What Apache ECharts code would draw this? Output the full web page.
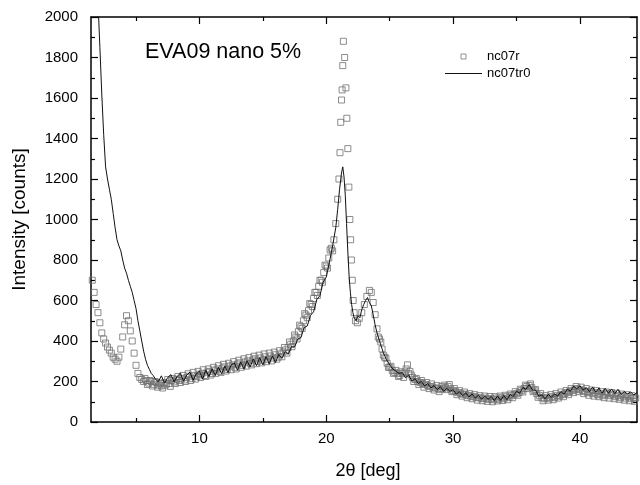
<!DOCTYPE html>
<html>
<head>
<meta charset="utf-8">
<script src="https://cdn.jsdelivr.net/npm/echarts@6.0.0/dist/echarts.min.js"></script>
<style>
html,body{margin:0;padding:0;background:#fff;}
#chart{width:640px;height:485px;}
</style>
</head>
<body>
<div id="chart"></div>
<script>
// ---- data ----
const xMajorTicks = [10, 20, 30, 40];
const xMinorTicks = [5, 15, 25, 35];
const seriesNames = ['nc07r', 'nc07tr0'];

// nc07r (hollow squares) – main readings [2θ, counts]
const sqPts = [[1.55,700],[1.7,640],[1.85,580],[2.0,540],[2.15,490],[2.3,440],[2.45,410],[2.6,390],[2.75,370],[2.9,355],[3.05,340],[3.2,320],[3.35,310],[3.5,300],[3.65,320],[3.8,360],[3.95,420],[4.1,480],[4.25,525],[4.4,500],[4.55,450],[4.7,400],[4.85,340],[5.0,280],[5.15,240],[5.3,220],[5.45,210],[5.6,200],[5.8,205],[6.0,192],[6.2,200],[6.4,186],[6.6,195],[6.8,182],[7.0,178],[7.2,195],[7.4,188],[7.6,190],[7.8,205],[8.0,198],[8.2,210],[8.4,205],[8.6,215],[8.8,208],[9.0,220],[9.2,226],[9.4,214],[9.6,230],[9.8,224],[10.0,236],[10.2,240],[10.4,230],[10.6,246],[10.8,250],[11.0,240],[11.2,256],[11.4,262],[11.6,250],[11.8,266],[12.0,272],[12.2,260],[12.4,276],[12.6,282],[12.8,270],[13.0,286],[13.2,292],[13.4,280],[13.6,296],[13.8,302],[14.0,290],[14.2,306],[14.4,312],[14.6,300],[14.8,316],[15.0,306],[15.2,322],[15.4,310],[15.6,326],[15.8,316],[16.0,332],[16.2,320],[16.4,336],[16.6,346],[16.8,356],[17.0,368],[17.2,384],[17.4,400],[17.6,420],[17.8,446],[18.0,470],[18.2,500],[18.4,528],[18.6,550],[18.8,580],[19.0,610],[19.2,640],[19.4,670],[19.6,700],[19.8,738],[20.0,770],[20.2,810],[20.4,858],[20.6,900],[20.75,980],[20.9,1100],[21.0,1200],[21.08,1330],[21.14,1480],[21.2,1590],[21.25,1640],[21.3,1760],[21.35,1880],[21.45,1800],[21.55,1650],[21.62,1500],[21.7,1350],[21.78,1160],[21.86,1000],[21.92,900],[21.98,800],[22.05,700],[22.12,600],[22.2,540],[22.3,500],[22.45,490],[22.6,512],[22.8,540],[23.0,580],[23.2,620],[23.4,650],[23.55,640],[23.7,590],[23.85,530],[24.0,460],[24.2,410],[24.4,360],[24.6,320],[24.8,290],[25.0,270],[25.2,255],[25.4,245],[25.6,240],[25.8,230],[26.0,240],[26.2,246],[26.4,282],[26.6,250],[26.8,220],[27.0,210],[27.2,200],[27.4,195],[27.6,190],[27.8,185],[28.0,180],[28.2,175],[28.4,172],[28.6,168],[28.8,165],[29.0,160],[29.2,165],[29.4,170],[29.6,176],[29.8,164],[30.0,155],[30.2,150],[30.4,145],[30.6,140],[30.8,138],[31.0,135],[31.2,130],[31.4,128],[31.6,125],[31.8,122],[32.0,120],[32.2,118],[32.4,115],[32.6,118],[32.8,112],[33.0,115],[33.2,110],[33.4,118],[33.6,112],[33.8,120],[34.0,115],[34.2,125],[34.4,120],[34.6,130],[34.8,135],[35.0,140],[35.2,145],[35.4,155],[35.6,165],[35.8,175],[36.0,180],[36.2,170],[36.4,155],[36.6,140],[36.8,130],[37.0,120],[37.2,115],[37.4,120],[37.6,118],[37.8,125],[38.0,120],[38.2,130],[38.4,128],[38.6,135],[38.8,140],[39.0,145],[39.2,150],[39.4,155],[39.6,160],[39.8,165],[40.0,160],[40.2,155],[40.4,150],[40.6,145],[40.8,150],[41.0,140],[41.2,145],[41.4,135],[41.6,140],[41.8,130],[42.0,135],[42.2,140],[42.4,130],[42.6,135],[42.8,125],[43.0,130],[43.2,120],[43.4,128],[43.6,118],[43.8,125],[44.0,115],[44.2,120],[44.4,118]];

// nc07r – further readings from the scatter band (between the main ones)
const sqPtsBand = [[5.7,215],[5.9,185],[6.1,205],[6.3,178],[6.5,200],[6.7,172],[6.9,190],[7.1,168],[7.3,182],[7.5,210],[7.7,176],[7.9,215],[8.1,190],[8.3,225],[8.5,195],[8.7,230],[8.9,200],[9.1,238],[9.3,205],[9.5,245],[9.7,212],[9.9,250],[10.1,220],[10.3,258],[10.5,225],[10.7,262],[10.9,232],[11.1,270],[11.3,240],[11.5,278],[11.7,245],[11.9,285],[12.1,252],[12.3,290],[12.5,258],[12.7,298],[12.9,262],[13.1,305],[13.3,270],[13.5,312],[13.7,276],[13.9,318],[14.1,282],[14.3,325],[14.5,288],[14.7,330],[14.9,292],[15.1,336],[15.3,298],[15.5,340],[15.7,302],[15.9,345],[16.1,310],[16.3,352],[16.5,322],[16.7,368],[16.9,340],[17.1,395],[17.3,372],[17.5,430],[17.7,410],[17.9,478],[18.1,462],[18.3,535],[18.5,515],[18.7,585],[18.9,570],[19.1,640],[19.3,625],[19.5,700],[19.7,690],[19.9,775],[20.1,760],[20.3,850],[20.5,845],
[24.1,420],[24.3,395],[24.5,330],[24.7,315],[24.9,270],[25.1,275],[25.3,240],[25.5,255],[25.7,225],[25.9,248],[26.1,220],[26.3,262],[26.5,240],[26.7,232],[26.9,200],[27.1,215],[27.3,185],[27.5,205],[27.7,172],[27.9,195],[28.1,165],[28.3,188],[28.5,158],[28.7,180],[28.9,150],[29.1,175],[29.3,182],[29.5,160],[29.7,185],[29.9,150],[30.1,165],[30.3,135],[30.5,155],[30.7,128],[30.9,148],[31.1,120],[31.3,140],[31.5,115],[31.7,135],[31.9,108],[32.1,130],[32.3,105],[32.5,128],[32.7,102],[32.9,126],[33.1,100],[33.3,125],[33.5,104],[33.7,128],[33.9,106],[34.1,132],[34.3,110],[34.5,138],[34.7,120],[34.9,150],[35.1,132],[35.3,162],[35.5,148],[35.7,182],[35.9,165],[36.1,188],[36.3,150],[36.5,160],[36.7,122],[36.9,140],[37.1,105],[37.3,130],[37.5,108],[37.7,135],[37.9,110],[38.1,140],[38.3,118],[38.5,148],[38.7,125],[38.9,155],[39.1,135],[39.3,165],[39.5,145],[39.7,175],[39.9,150],[40.1,172],[40.3,140],[40.5,165],[40.7,132],[40.9,158],[41.1,128],[41.3,155],[41.5,125],[41.7,150],[41.9,120],[42.1,148],[42.3,118],[42.5,145],[42.7,115],[42.9,142],[43.1,112],[43.3,138],[43.5,108],[43.7,135],[43.9,105],[44.1,130],[44.3,102]];

// nc07tr0 (solid line) [2θ, counts]
const lnPts = [[2.0,2080],[2.15,1850],[2.3,1620],[2.45,1420],[2.6,1260],[2.75,1200],[2.9,1150],[3.05,1100],[3.2,1030],[3.35,960],[3.5,900],[3.65,870],[3.8,845],[3.95,800],[4.1,760],[4.25,735],[4.4,700],[4.55,670],[4.7,640],[4.85,600],[5.0,560],[5.15,500],[5.3,450],[5.45,400],[5.6,350],[5.75,310],[5.9,280],[6.05,260],[6.2,240],[6.35,230],[6.5,215],
[6.75,198],[7.0,228],[7.25,192],[7.5,220],[7.75,234],[8.0,198],[8.25,226],[8.5,240],[8.75,202],[9.0,232],[9.25,246],[9.5,206],[9.75,238],[10.0,250],[10.25,212],[10.5,256],[10.75,224],[11.0,262],[11.25,230],[11.5,270],[11.75,238],[12.0,276],[12.25,244],[12.5,282],[12.75,292],[13.0,256],[13.25,296],[13.5,262],[13.75,302],[14.0,272],[14.25,312],[14.5,278],[14.75,318],[15.0,282],[15.25,322],[15.5,288],[15.75,326],[16.0,294],[16.25,334],[16.5,314],[16.75,348],[17.0,334],[17.25,372],[17.5,370],[17.75,410],[18.0,416],[18.25,466],[18.5,474],[18.75,526],[19.0,544],[19.25,604],[19.5,624],[19.75,690],[20.0,716],
[20.25,790],[20.5,870],[20.75,960],[20.9,1050],[21.05,1150],[21.2,1230],[21.3,1260],[21.4,1210],[21.5,1120],[21.6,980],[21.7,840],[21.8,720],[21.9,640],[22.0,580],[22.1,540],[22.2,515],[22.35,500],[22.5,525],[22.65,515],[22.8,555],[22.95,580],[23.1,600],[23.25,615],[23.4,590],[23.55,575],[23.7,530],[23.85,480],[24.0,440],[24.25,390],[24.5,342],[24.75,308],[25.0,282],[25.25,262],[25.5,250],[25.75,240],
[26.0,244],[26.25,218],[26.5,232],[26.75,202],[27.0,214],[27.25,190],[27.5,200],[27.75,178],[28.0,190],[28.25,168],[28.5,180],[28.75,160],[29.0,174],[29.25,152],[29.5,166],[29.75,152],[30.0,160],[30.25,138],[30.5,150],[30.75,130],[31.0,144],[31.25,124],[31.5,138],[31.75,118],[32.0,132],[32.25,112],[32.5,128],[32.75,112],[33.0,126],[33.25,106],[33.5,128],[33.75,107],[34.0,131],[34.25,110],[34.5,136],[34.75,126],[35.0,152],[35.25,142],[35.5,170],[35.75,162],[36.0,184],[36.25,158],[36.5,158],[36.75,128],[37.0,134],[37.25,114],[37.5,136],[37.75,122],[38.0,138],[38.25,128],[38.5,150],[38.75,138],[39.0,162],[39.25,152],[39.5,176],[39.75,164],[40.0,178],[40.25,158],[40.5,170],[40.75,150],[41.0,172],[41.25,147],[41.5,168],[41.75,142],[42.0,166],[42.25,142],[42.5,163],[42.75,140],[43.0,161],[43.25,137],[43.5,150],[43.75,138],[44.0,148],[44.25,133],[44.5,146]];

const FONT = 'Liberation Sans, Arial, Helvetica, sans-serif';
const XMIN = 1.45, XMAX = 44.5;
const axisLine = { show: true, lineStyle: { color: '#000', width: 1.5 } };

function xAx(pos, ticks, len, labels) {
  return {
    type: 'value', position: pos, min: XMIN, max: XMAX,
    axisLine: labels !== null ? axisLine : { show: false },
    axisTick: { show: true, inside: true, length: len, customValues: ticks, lineStyle: { color: '#000', width: 1.2 } },
    axisLabel: labels ? { show: true, customValues: labels, fontSize: 15, color: '#000', fontFamily: FONT, margin: 9 } : { show: false, customValues: ticks },
    splitLine: { show: false }
  };
}
function yAx(pos, showLabels) {
  return {
    type: 'value', position: pos, min: 0, max: 2000, interval: 200,
    axisLine: axisLine,
    axisTick: { show: true, inside: true, length: 7, lineStyle: { color: '#000', width: 1.2 } },
    minorTick: { show: true, splitNumber: 2, length: 4, lineStyle: { color: '#000', width: 1.2 } },
    axisLabel: showLabels ? { fontSize: 15, color: '#000', fontFamily: FONT, margin: 13, formatter: v => String(v) } : { show: false },
    splitLine: { show: false }
  };
}

const chart = echarts.init(document.getElementById('chart'), null, { renderer: 'canvas' });
const option = {
  animation: false,
  backgroundColor: '#fff',
  title: {
    text: 'EVA09 nano 5%', left: 140, top: 36,
    textStyle: { fontSize: 21.5, fontWeight: 'normal', color: '#000', fontFamily: FONT }
  },
  legend: {
    orient: 'vertical', left: 445, top: 50, padding: 0, itemWidth: 37, itemHeight: 5, itemGap: 4,
    textStyle: { fontSize: 13, color: '#000', fontFamily: FONT },
    data: [
      { name: seriesNames[0], icon: 'path://M0,0 L10,0 L10,10 L0,10 Z', itemStyle: { color: 'transparent', borderColor: '#777', borderWidth: 1 } },
      { name: seriesNames[1], icon: 'path://M0,0 L37,0 L37,1 L0,1 Z', itemStyle: { color: '#111', borderWidth: 0 } }
    ]
  },
  grid: { left: 91, right: 3, top: 17, bottom: 62, containLabel: false },
  xAxis: [
    Object.assign(xAx('bottom', xMajorTicks, 7, xMajorTicks), {
      name: '2θ [deg]', nameLocation: 'middle', nameGap: 40,
      nameTextStyle: { fontSize: 18, color: '#000', fontFamily: FONT, padding: [0, 0, 0, 8] }
    }),
    xAx('bottom', xMinorTicks, 4, null),
    xAx('top', xMajorTicks, 7, false),
    xAx('top', xMinorTicks, 4, null)
  ],
  yAxis: [
    Object.assign(yAx('left', true), {
      name: 'Intensity [counts]', nameLocation: 'middle', nameGap: 62,
      nameTextStyle: { fontSize: 19, color: '#000', fontFamily: FONT }
    }),
    yAx('right', false)
  ],
  series: [
    {
      name: seriesNames[0], type: 'scatter', xAxisIndex: 0, yAxisIndex: 0,
      data: sqPts.concat(sqPtsBand), symbol: 'rect', symbolSize: 6,
      itemStyle: { color: 'transparent', borderColor: '#707070', borderWidth: 1 },
      emphasis: { disabled: true }
    },
    {
      name: seriesNames[1], type: 'line', xAxisIndex: 0, yAxisIndex: 0,
      data: lnPts, symbol: 'none', clip: true,
      lineStyle: { color: '#111', width: 1 },
      emphasis: { disabled: true }
    }
  ]
};
chart.setOption(option);
</script>
</body>
</html>
